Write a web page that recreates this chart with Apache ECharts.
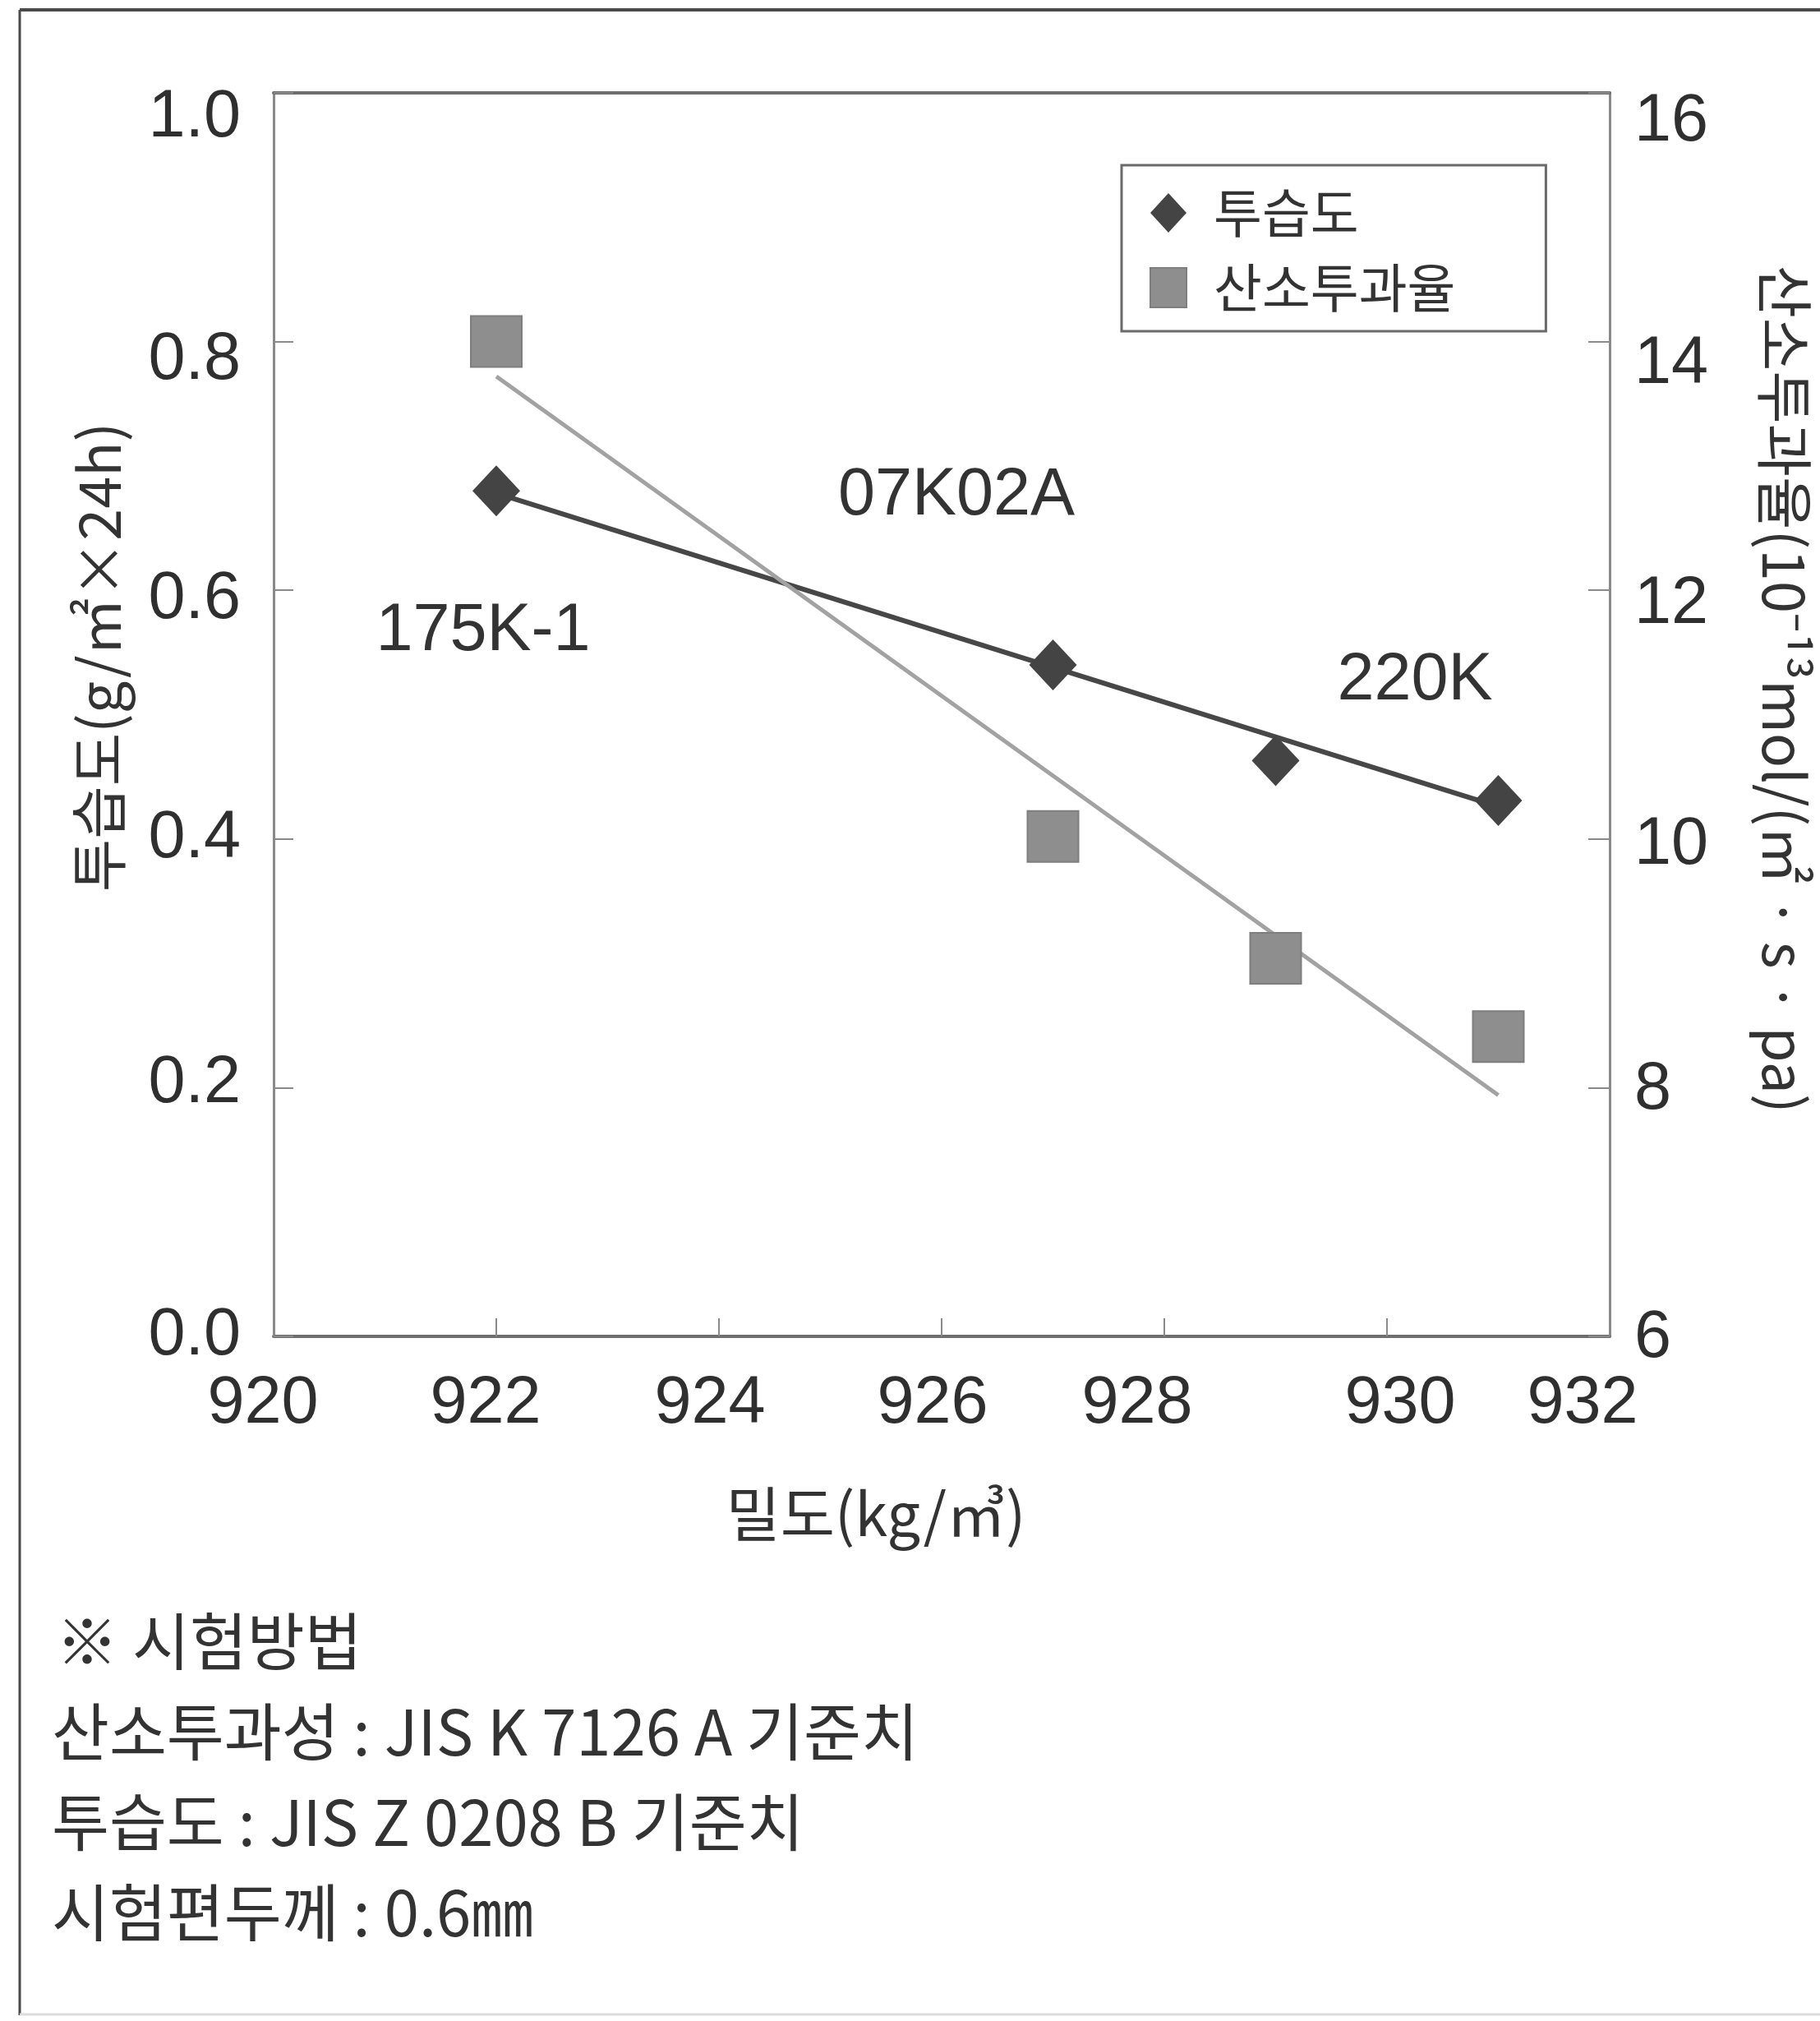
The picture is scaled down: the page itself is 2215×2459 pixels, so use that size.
<!DOCTYPE html>
<html>
<head>
<meta charset="utf-8">
<script src="https://cdn.jsdelivr.net/npm/echarts@6/dist/echarts.min.js"></script>
<style>
  html, body { margin: 0; padding: 0; background: #fff; }
  #chart { width: 2215px; height: 2459px; }
</style>
</head>
<body>
<div id="chart"></div>
<script>
// 밀도별 측정값
var density = [922, 927, 929, 931];
var moisture = [0.68, 0.54, 0.463, 0.431];      // 투습도 (g/㎡×24h)
var oxygen = [14.0, 10.02, 9.04, 8.41];          // 산소투과율 (10^-13 mol/(㎡·s·pa))

// 추세선 양 끝점
var fitX = [922, 931];
var moistureFit = [0.678, 0.426];
var oxygenFit = [13.72, 7.94];

var sampleNames = ['175K-1', '07K02A', '220K'];
var notes = [
    '※ 시험방법',
    '산소투과성 : JIS K 7126 A 기준치',
    '투습도 : JIS Z 0208 B 기준치',
    '시험편두께 : 0.6㎜'
];

// 스캔 원본의 눈금 글자 위치 어긋남 (px)
var xLabelShift = [-13, -13, -11, -11, -33, 16, -33];
var leftLabelShift = [0, -5, 0, 11, 23, 31];
var rightLabelShift = [3, 3, 8, 17, 28, 36];

var SANS = "'Liberation Sans', Arial, sans-serif";
var KR = "'Noto Sans CJK KR', 'Noto Sans', sans-serif";

function pairs(xs, ys) {
    return xs.map(function (x, i) { return [x, ys[i]]; });
}

// rich 스타일로 눈금 글자를 조금씩 옮긴다
function richShift(shifts, horizontal) {
    var rich = {};
    shifts.forEach(function (d, i) {
        var p;
        if (horizontal) {
            p = d < 0 ? [0, -2 * d, 0, 0] : [0, 0, 0, 2 * d];
        } else {
            p = d > 0 ? [2 * d, 0, 0, 0] : [0, 0, -2 * d, 0];
        }
        rich['s' + i] = { padding: p, fontFamily: SANS, fontSize: 81, color: '#2f2f2f' };
    });
    return rich;
}

var chart = echarts.init(document.getElementById('chart'));

var option = {
    backgroundColor: '#fff',
    animation: false,
    grid: {
        left: 333,
        top: 113,
        width: 1628,
        height: 1513
    },
    legend: {
        orient: 'vertical',
        left: 1365,
        top: 201,
        padding: [25, 110, 20, 34],
        borderColor: '#6a6a6a',
        borderWidth: 3,
        itemWidth: 44,
        itemHeight: 48,
        itemGap: 25,
        textStyle: {
            fontFamily: KR,
            fontSize: 64,
            lineHeight: 66,
            color: '#333',
            padding: [0, 0, 0, 28]
        },
        data: [
            { name: '투습도', icon: 'diamond' },
            { name: '산소투과율', icon: 'rect' }
        ]
    },
    xAxis: [{
        type: 'value',
        min: 920,
        max: 932,
        interval: 2,
        name: '밀도(kg/㎥)',
        nameLocation: 'middle',
        nameGap: 180,
        nameTextStyle: { fontFamily: KR, fontSize: 72, color: '#333', padding: [0, 160, 0, 0] },
        axisLine: { show: true, lineStyle: { color: '#6e6e6e', width: 4 } },
        axisTick: { show: true, inside: true, length: 22, lineStyle: { color: '#8a8a8a', width: 2 } },
        axisLabel: {
            margin: 42,
            formatter: function (v, i) { return '{s' + i + '|' + v + '}'; },
            rich: richShift(xLabelShift, true)
        },
        splitLine: { show: false }
    }, {
        type: 'value',
        position: 'top',
        min: 920,
        max: 932,
        axisLine: { show: true, lineStyle: { color: '#6e6e6e', width: 4 } },
        axisTick: { show: false },
        axisLabel: { show: false },
        splitLine: { show: false }
    }],
    yAxis: [{
        type: 'value',
        min: 0,
        max: 1,
        interval: 0.2,
        position: 'left',
        name: '투습도(g/㎡×24h)',
        nameLocation: 'middle',
        nameRotate: 90,
        nameGap: 178,
        nameTextStyle: { fontFamily: KR, fontSize: 70, color: '#333', padding: [0, 0, 0, 140] },
        axisLine: { show: true, lineStyle: { color: '#8a8a8a', width: 3 } },
        axisTick: { show: true, inside: true, length: 24, lineStyle: { color: '#8a8a8a', width: 2 } },
        axisLabel: {
            margin: 40,
            formatter: function (v, i) { return '{s' + i + '|' + v.toFixed(1) + '}'; },
            rich: richShift(leftLabelShift, false)
        },
        splitLine: { show: false }
    }, {
        type: 'value',
        min: 6,
        max: 16,
        interval: 2,
        position: 'right',
        name: '산소투과율(10⁻¹³mol/(㎡ · s · pa)',
        nameLocation: 'middle',
        nameRotate: -90,
        nameGap: 178,
        nameTextStyle: { fontFamily: KR, fontSize: 70, color: '#333', padding: [0, 62, 0, 0] },
        axisLine: { show: true, lineStyle: { color: '#8a8a8a', width: 3 } },
        axisTick: { show: true, inside: true, length: 26, lineStyle: { color: '#8a8a8a', width: 2 } },
        axisLabel: {
            margin: 30,
            formatter: function (v, i) { return '{s' + i + '|' + v + '}'; },
            rich: richShift(rightLabelShift, false)
        },
        splitLine: { show: false }
    }],
    series: [{
        name: '투습도 추세',
        type: 'line',
        yAxisIndex: 0,
        data: pairs(fitX, moistureFit),
        showSymbol: false,
        symbol: 'none',
        lineStyle: { color: '#474747', width: 6 },
        z: 2
    }, {
        name: '산소투과율 추세',
        type: 'line',
        yAxisIndex: 1,
        data: pairs(fitX, oxygenFit),
        showSymbol: false,
        symbol: 'none',
        lineStyle: { color: '#a2a2a2', width: 5 },
        z: 2
    }, {
        name: '투습도',
        type: 'scatter',
        yAxisIndex: 0,
        data: pairs(density, moisture),
        symbol: 'diamond',
        symbolSize: [58, 62],
        itemStyle: { color: '#444444', opacity: 1 },
        z: 4
    }, {
        name: '산소투과율',
        type: 'scatter',
        yAxisIndex: 1,
        data: pairs(density, oxygen),
        symbol: 'rect',
        symbolSize: 62,
        itemStyle: { color: '#8e8e8e', borderColor: '#7e7e7e', borderWidth: 2, opacity: 1 },
        z: 3
    }],
    graphic: [
        // 바깥 테두리
        { type: 'line', shape: { x1: 24, y1: 12, x2: 2215, y2: 12 }, style: { stroke: '#4a4a4a', lineWidth: 4 } },
        { type: 'line', shape: { x1: 24, y1: 12, x2: 24, y2: 2452 }, style: { stroke: '#4a4a4a', lineWidth: 3 } },
        { type: 'line', shape: { x1: 24, y1: 2451, x2: 2215, y2: 2451 }, style: { stroke: '#dcdcdc', lineWidth: 3 } },
        // 시료명
        { type: 'text', x: 588, y: 769, style: { text: sampleNames[0], font: '81px ' + SANS, fill: '#333', align: 'center', verticalAlign: 'middle' } },
        { type: 'text', x: 1164, y: 604, style: { text: sampleNames[1], font: '81px ' + SANS, fill: '#333', align: 'center', verticalAlign: 'middle' } },
        { type: 'text', x: 1722, y: 829, style: { text: sampleNames[2], font: '81px ' + SANS, fill: '#333', align: 'center', verticalAlign: 'middle' } }
    ].concat(notes.map(function (t, i) {
        return {
            type: 'text',
            x: i === 0 ? 68 : 63,
            y: 1997 + i * 110,
            style: { text: t, font: '76px ' + KR, fill: '#333', verticalAlign: 'middle' }
        };
    }))
};

chart.setOption(option);
</script>
</body>
</html>
